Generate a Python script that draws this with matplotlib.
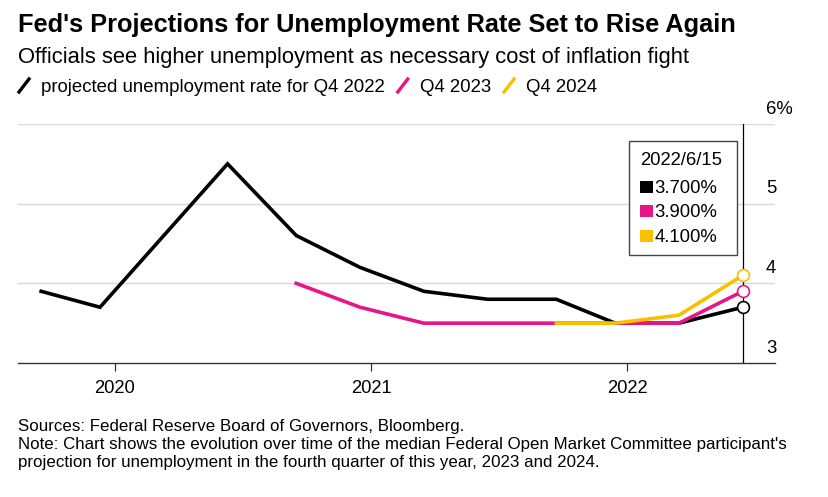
import matplotlib
matplotlib.use("Agg")
import matplotlib.pyplot as plt
import matplotlib.dates as mdates
from matplotlib.lines import Line2D
from matplotlib.patches import Rectangle
import datetime as dt

# SEP release dates and median projections
dates_2022 = ["2019-09-18", "2019-12-11", "2020-06-10", "2020-09-16", "2020-12-16",
              "2021-03-17", "2021-06-16", "2021-09-22", "2021-12-15", "2022-03-16", "2022-06-15"]
q4_2022 = [3.9, 3.7, 5.5, 4.6, 4.2, 3.9, 3.8, 3.8, 3.5, 3.5, 3.7]

dates_2023 = ["2020-09-16", "2020-12-16", "2021-03-17", "2021-06-16", "2021-09-22",
              "2021-12-15", "2022-03-16", "2022-06-15"]
q4_2023 = [4.0, 3.7, 3.5, 3.5, 3.5, 3.5, 3.5, 3.9]

dates_2024 = ["2021-09-22", "2021-12-15", "2022-03-16", "2022-06-15"]
q4_2024 = [3.5, 3.5, 3.6, 4.1]

series = [
    ("projected unemployment rate for Q4 2022", dates_2022, q4_2022, "#000000"),
    ("Q4 2023", dates_2023, q4_2023, "#e8158a"),
    ("Q4 2024", dates_2024, q4_2024, "#f9c000"),
]
yticks = [3, 4, 5, 6]
ytick_labels = ["3", "4", "5", "6%"]
xtick_years = [2020, 2021, 2022]
hover_date = "2022/6/15"

W, H = 829, 497
fig = plt.figure(figsize=(W / 100, H / 100), dpi=100)
sans = ["Liberation Sans", "DejaVu Sans"]


def fx(px):
    return px / W


def fy(py):
    return 1 - py / H


ax = fig.add_axes([fx(18), fy(363), fx(775) - fx(18), fy(124) - fy(363)])
ax.set_xlim(mdates.date2num(dt.date(2019, 8, 16)), mdates.date2num(dt.date(2022, 7, 31)))
ax.set_ylim(3, 6)

for y in yticks[1:]:
    ax.axhline(y, color="#d9d9d9", lw=1.0, zorder=1)

for name, ds, vals, col in series:
    xs = [mdates.date2num(dt.date.fromisoformat(d)) for d in ds]
    ax.plot(xs, vals, color=col, lw=2.6, solid_joinstyle="miter", zorder=3, clip_on=False)
    ax.plot(xs[-1], vals[-1], "o", ms=8.5, mfc="white", mec=col, mew=1.2, zorder=5, clip_on=False)

# vertical hover line
xh = mdates.date2num(dt.date(2022, 6, 15))
ax.axvline(xh, color="#000000", lw=0.9, zorder=4)

for s in ["top", "right", "left"]:
    ax.spines[s].set_visible(False)
ax.spines["bottom"].set_color("#333333")
ax.spines["bottom"].set_linewidth(1.0)
ax.set_yticks([])
ax.set_xticks([mdates.date2num(dt.date(y, 1, 1)) for y in xtick_years])
ax.set_xticklabels([str(y) for y in xtick_years], fontsize=13.2, family=sans)
ax.tick_params(axis="x", length=6, width=0.9, color="#333333", pad=6)

# right-side y labels, sitting above gridlines
for y, lab in zip(yticks, ytick_labels):
    ax.annotate(lab, xy=(1, y), xycoords=("axes fraction", "data"),
                xytext=(-6.5, 7.5), textcoords="offset points",
                ha="left", va="baseline", fontsize=13.3, family=sans)

# hover box
bx0, by0, bx1, by1 = 629, 141, 737, 255
fig.patches.append(Rectangle((fx(bx0), fy(by1)), fx(bx1) - fx(bx0), fy(by0) - fy(by1),
                             transform=fig.transFigure, fc="white", ec="#444444", lw=1.0, zorder=6))
fig.text(fx(640), fy(165), hover_date, fontsize=13.3, family=sans, va="baseline", zorder=7)
for i, (name, ds, vals, col) in enumerate(series):
    base = 193 + i * 24.5
    fig.patches.append(Rectangle((fx(640.5), fy(base)), fx(12.5), 12.5 / H,
                                 transform=fig.transFigure, fc=col, ec="none", zorder=7))
    fig.text(fx(654.5), fy(base), f"{vals[-1]:.3f}%", fontsize=13.3, family=sans,
             va="baseline", zorder=7)

# titles
fig.text(fx(18), fy(32), "Fed's Projections for Unemployment Rate Set to Rise Again",
         fontsize=18.3, fontweight="bold", family=sans, va="baseline")
fig.text(fx(18), fy(63), "Officials see higher unemployment as necessary cost of inflation fight",
         fontsize=15.8, family=sans, va="baseline")

# legend row
lx = 18
for name, ds, vals, col in series:
    fig.lines.append(Line2D([fx(lx + 1), fx(lx + 11)], [fy(92), fy(79)],
                            transform=fig.transFigure, color=col, lw=2.4))
    t = fig.text(fx(lx + 23), fy(92), name, fontsize=13.4, family=sans, va="baseline")
    fig.canvas.draw()
    bb = t.get_window_extent()
    lx = bb.x1 + 12

# footer
fig.text(fx(18), fy(431), "Sources: Federal Reserve Board of Governors, Bloomberg.",
         fontsize=12.2, family=sans, va="baseline")
fig.text(fx(18), fy(449), "Note: Chart shows the evolution over time of the median Federal Open Market Committee participant's",
         fontsize=12.2, family=sans, va="baseline")
fig.text(fx(18), fy(467), "projection for unemployment in the fourth quarter of this year, 2023 and 2024.",
         fontsize=12.2, family=sans, va="baseline")

fig.savefig("out.png", dpi=100)
